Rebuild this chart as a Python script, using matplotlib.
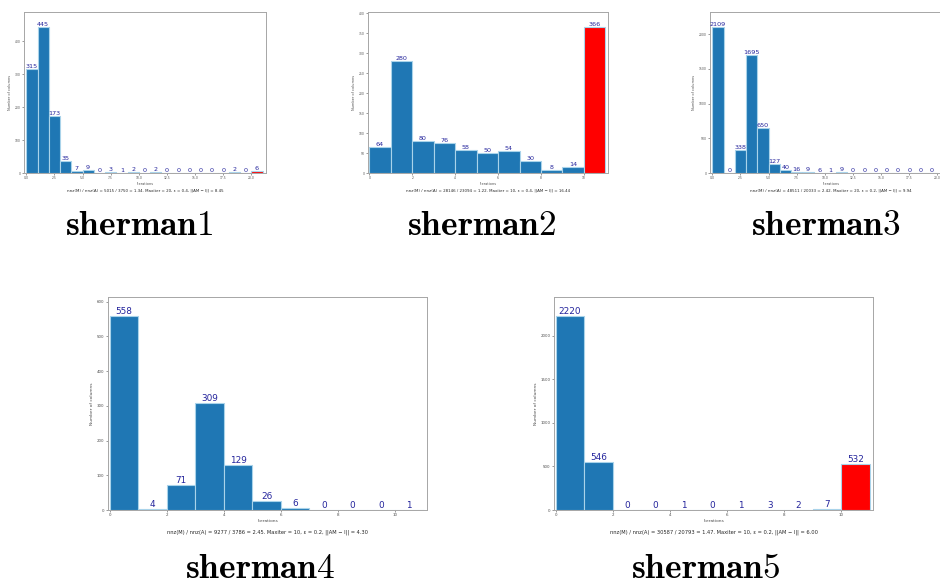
import matplotlib
matplotlib.use("Agg")
import matplotlib.pyplot as plt

plt.rcParams.update({"mathtext.fontset": "cm", "font.family": "DejaVu Sans"})

# counts per iteration bin (last bin = reached Maxiter, drawn red)
sherman1 = [315, 445, 173, 35, 7, 9, 0, 3, 1, 2, 0, 2, 0, 0, 0, 0, 0, 0, 2, 0, 6]
sherman2 = [64, 280, 80, 76, 58, 50, 54, 30, 8, 14, 366]
sherman3 = [2109, 0, 338, 1695, 650, 127, 40, 16, 9, 6, 1, 9, 0, 0, 0, 0, 0, 0, 0, 0]
sherman4 = [558, 4, 71, 309, 129, 26, 6, 0, 0, 0, 1]
sherman5 = [2220, 546, 0, 0, 1, 0, 1, 3, 2, 7, 532]

names = ["sherman1", "sherman2", "sherman3", "sherman4", "sherman5"]
captions = [
    "nnz(M) / nnz(A) = 5015 / 3750 = 1.34. Maxiter = 20, \u03b5 = 0.4, ||AM \u2212 I|| = 8.45",
    "nnz(M) / nnz(A) = 28146 / 23094 = 1.22. Maxiter = 10, \u03b5 = 0.4, ||AM \u2212 I|| = 16.44",
    "nnz(M) / nnz(A) = 48511 / 20033 = 2.42. Maxiter = 20, \u03b5 = 0.2, ||AM \u2212 I|| = 9.94",
    "nnz(M) / nnz(A) = 9277 / 3786 = 2.45. Maxiter = 10, \u03b5 = 0.2, ||AM \u2212 I|| = 4.30",
    "nnz(M) / nnz(A) = 30587 / 20793 = 1.47. Maxiter = 10, \u03b5 = 0.2, ||AM \u2212 I|| = 6.00",
]
maxiter = [20, 10, 20, 10, 10]
data = [sherman1, sherman2, sherman3, sherman4, sherman5]

# layout in pixels of the 940x585 canvas: (left, top, right, bottom)
W, H = 940, 585
boxes = [(24, 12, 266, 173), (368, 12, 608, 173), (710, 12, 952, 173),
         (108, 297, 427, 510), (554, 297, 873, 510)]
small = [True, True, True, False, False]

fig = plt.figure(figsize=(9.4, 5.85), dpi=100)

for i, counts in enumerate(data):
    l, t, r, b = boxes[i]
    ax = fig.add_axes([l / W, 1 - b / H, (r - l) / W, (b - t) / H])
    xs = list(range(len(counts)))
    colors = ["red" if x == maxiter[i] else "#1f77b4" for x in xs]
    ax.bar(xs, counts, width=1.0, align="edge", color=colors,
           edgecolor="#a9d3ea", linewidth=0.8)
    fs_lab = 4.6 if small[i] else 6.4
    for x, c in zip(xs, counts):
        ax.text(x + 0.5, c, str(c), ha="center", va="bottom",
                fontsize=fs_lab, color="#24249c")
    ax.set_ylim(0, max(counts) * 1.1)
    if maxiter[i] == 20:
        ax.set_xlim(-0.2, 21.3)
    else:
        ax.set_xlim(-0.06, 11.12)
    tfs = 2.2 if small[i] else 2.9
    ax.tick_params(labelsize=tfs, length=1.5, width=0.4, pad=1, colors="0.3")
    ax.set_xlabel("Iterations", fontsize=tfs + 0.3, labelpad=1, color="0.3")
    ax.set_ylabel("Number of columns", fontsize=tfs + 0.3, labelpad=2, color="0.3")
    for sp in ax.spines.values():
        sp.set_color("0.65")
        sp.set_linewidth(0.7)

    cx = (l + r) / 2
    cap_y = b + (17 if small[i] else 22)
    fig.text(cx / W, 1 - cap_y / H, captions[i], ha="center", va="center",
             fontsize=2.9 if small[i] else 3.7, color="0.15")

# big bold serif names below each panel
name_pos = [(139, 235), (482, 235), (826, 235), (260, 578), (706, 578)]
for (x, y), nm in zip(name_pos, names):
    fig.text(x / W, 1 - y / H, r"$\mathbf{%s}$" % nm, ha="center",
             va="baseline", fontsize=25.5)

fig.savefig("out.png", dpi=100)
